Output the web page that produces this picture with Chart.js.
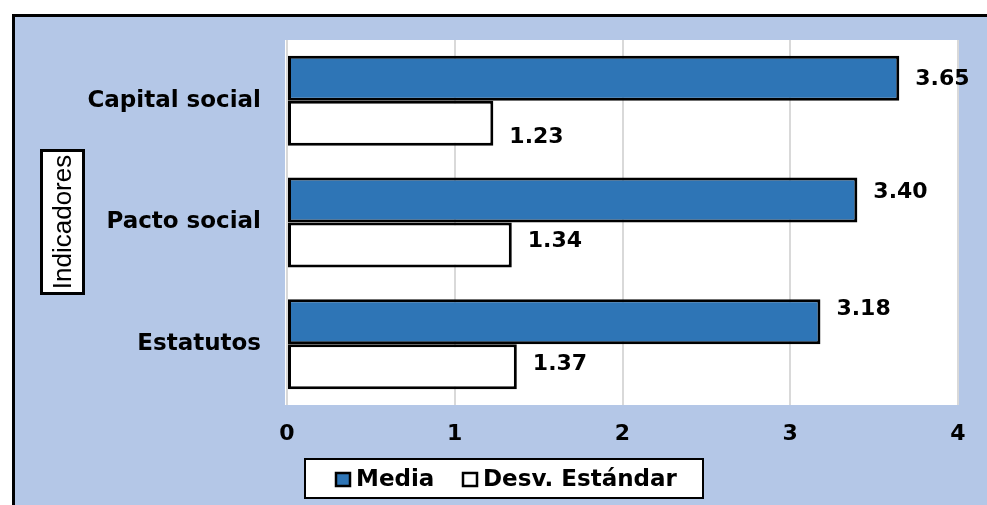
<!DOCTYPE html>
<html>
<head>
<meta charset="utf-8">
<script src="https://cdn.jsdelivr.net/npm/chart.js@4.4.0/dist/chart.umd.min.js"></script>
<style>
  html, body { margin: 0; padding: 0; background: #ffffff; }
  canvas { display: block; }
</style>
</head>
<body>
<canvas id="grafico" width="987" height="505"></canvas>
<script>
// datos
const categorias   = ["Capital social", "Pacto social", "Estatutos"];
const media        = [3.65, 3.40, 3.18];
const desviacion   = [1.23, 1.34, 1.37];
const series       = ["Media", "Desv. Estándar"];
const ejeX_ticks   = [0, 1, 2, 3, 4];
const tituloEjeY   = "Indicadores";

const FUENTE  = "'DejaVu Sans', Arial, sans-serif";
const FUENTE2 = "'Liberation Sans', Arial, sans-serif";

// fondo azul, marco, area blanca, etiquetas, caja de titulo y leyenda
const decorado = {
    id: "decorado",
    beforeDraw(chart) {
        const ctx = chart.ctx;
        const a = chart.chartArea;
        ctx.save();
        ctx.fillStyle = "#ffffff";
        ctx.fillRect(0, 0, chart.width, chart.height);
        ctx.fillStyle = "#b4c7e7";
        ctx.fillRect(12, 14, chart.width - 12, chart.height - 14);
        ctx.strokeStyle = "#000000";
        ctx.lineWidth = 3;
        ctx.beginPath();
        ctx.moveTo(13.5, chart.height);
        ctx.lineTo(13.5, 15.5);
        ctx.lineTo(chart.width, 15.5);
        ctx.stroke();
        ctx.fillStyle = "#ffffff";
        ctx.fillRect(a.left - 2, a.top, a.right - a.left + 2, a.bottom - a.top);
        ctx.restore();
    },
    afterDatasetsDraw(chart) {
        const ctx = chart.ctx;
        // ajuste vertical de cada etiqueta como en el original
        const desplaz = [[1, -8, -12], [14, -4, -2]];
        ctx.save();
        ctx.font = "bold 22px " + FUENTE;
        ctx.fillStyle = "#000000";
        ctx.textAlign = "left";
        ctx.textBaseline = "middle";
        chart.data.datasets.forEach(function (ds, i) {
            const meta = chart.getDatasetMeta(i);
            meta.data.forEach(function (bar, j) {
                ctx.fillText(ds.data[j].toFixed(2), bar.x + 16, bar.y + desplaz[i][j]);
            });
        });
        ctx.restore();
    },
    afterDraw(chart) {
        const ctx = chart.ctx;
        ctx.save();
        // caja del titulo del eje
        ctx.fillStyle = "#ffffff";
        ctx.fillRect(41, 150, 42, 143);
        ctx.strokeStyle = "#000000";
        ctx.lineWidth = 3;
        ctx.strokeRect(41.5, 150.5, 42, 143);
        ctx.translate(63, 222);
        ctx.rotate(-Math.PI / 2);
        ctx.fillStyle = "#000000";
        ctx.font = "26px " + FUENTE2;
        ctx.textAlign = "center";
        ctx.textBaseline = "middle";
        ctx.fillText(tituloEjeY, 0, 1);
        ctx.restore();

        // leyenda
        ctx.save();
        ctx.fillStyle = "#ffffff";
        ctx.fillRect(305, 459, 398, 39);
        ctx.strokeStyle = "#000000";
        ctx.lineWidth = 2;
        ctx.strokeRect(305, 459, 398, 39);
        ctx.font = "bold 23px " + FUENTE;
        ctx.textBaseline = "middle";
        const xs = [336, 463];
        chart.data.datasets.forEach(function (ds, i) {
            ctx.fillStyle = ds.backgroundColor;
            ctx.fillRect(xs[i], 473, 14, 13);
            ctx.lineWidth = 2.5;
            ctx.strokeStyle = "#000000";
            ctx.strokeRect(xs[i], 473, 14, 13);
            ctx.fillStyle = "#000000";
            ctx.fillText(ds.label, xs[i] + 20, 480);
        });
        ctx.restore();
    }
};

const ctx = document.getElementById("grafico").getContext("2d");
const grafico = new Chart(ctx, {
    type: "bar",
    data: {
        labels: categorias,
        datasets: [{
            label: series[0],
            data: media,
            backgroundColor: "#2e75b6",
            borderColor: "#000000",
            borderWidth: 3,
            borderSkipped: false
        }, {
            label: series[1],
            data: desviacion,
            backgroundColor: "#ffffff",
            borderColor: "#000000",
            borderWidth: 3,
            borderSkipped: false
        }]
    },
    options: {
        indexAxis: "y",
        responsive: false,
        animation: false,
        events: [],
        datasets: {
            bar: { categoryPercentage: 0.74, barPercentage: 1.0 }
        },
        layout: { padding: { top: 40, right: 29, bottom: 0, left: 0 } },
        plugins: {
            legend: { display: false },
            tooltip: { enabled: false }
        },
        scales: {
            x: {
                type: "linear",
                min: ejeX_ticks[0],
                max: ejeX_ticks[ejeX_ticks.length - 1],
                afterBuildTicks: function (scale) {
                    scale.ticks = ejeX_ticks.map(function (v) { return { value: v }; });
                },
                afterFit: function (scale) { scale.height = 100; },
                grid: { color: "#d9d9d9", lineWidth: 2, drawTicks: false },
                border: { display: false },
                ticks: {
                    padding: 16,
                    color: "#000000",
                    font: { family: FUENTE, size: 22, weight: "bold" }
                }
            },
            y: {
                type: "category",
                afterFit: function (scale) { scale.width = 287; },
                grid: { display: false, drawTicks: false },
                border: { display: false },
                ticks: {
                    padding: 26,
                    color: "#000000",
                    font: { family: FUENTE, size: 23, weight: "bold" }
                }
            }
        }
    },
    plugins: [decorado]
});
</script>
</body>
</html>
